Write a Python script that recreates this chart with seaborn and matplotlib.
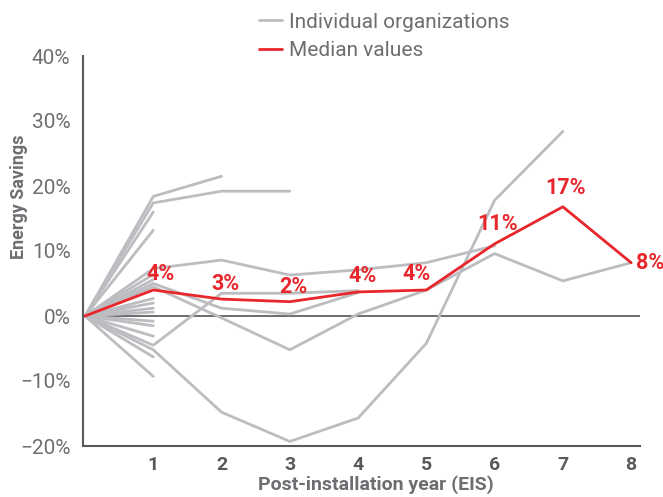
import matplotlib
matplotlib.use("Agg")
import matplotlib.pyplot as plt
import seaborn as sns
import pandas as pd
from matplotlib.lines import Line2D

# ---------------- data ----------------
years = [0, 1, 2, 3, 4, 5, 6, 7, 8]

org_01 = [0, 18.4, 21.5]
org_02 = [0, 17.4, 19.2, 19.2]
org_03 = [0, 16.0]
org_04 = [0, 13.2]
org_05 = [0, 7.3, 8.6, 6.3, 7.1, 8.2, 10.8]
org_06 = [0, 6.4]
org_07 = [0, 5.6]
org_08 = [0, 5.0, 1.2, 0.3, 3.6]
org_09 = [0, 4.5, -0.3, -5.2, 0.3, 4.0, 9.6, 5.4, 8.2]
org_10 = [0, 2.7]
org_11 = [0, 2.0]
org_12 = [0, 1.2]
org_13 = [0, 0.6]
org_14 = [0, -0.8]
org_15 = [0, -1.5]
org_16 = [0, -3.1]
org_17 = [0, -4.5, 3.5, 3.5, 3.9]
org_18 = [0, -5.2, -14.8, -19.3, -15.7, -4.2, 17.8, 28.4]
org_19 = [0, -6.3]
org_20 = [0, -9.3]

orgs = [org_01, org_02, org_03, org_04, org_05, org_06, org_07, org_08, org_09, org_10,
        org_11, org_12, org_13, org_14, org_15, org_16, org_17, org_18, org_19, org_20]

median_values = [0, 4.0, 2.6, 2.2, 3.7, 4.0, 11.1, 16.8, 8.2]
median_labels = ["", "4%", "3%", "2%", "4%", "4%", "11%", "17%", "8%"]

y_ticks = [-20, -10, 0, 10, 20, 30, 40]
x_ticks = [1, 2, 3, 4, 5, 6, 7, 8]

# ---------------- frame ----------------
rows = []
for i, vals in enumerate(orgs):
    for yr, v in zip(years, vals):
        rows.append({"org": i, "year": yr, "saving": v})
df_orgs = pd.DataFrame(rows)
df_med = pd.DataFrame({"year": years, "saving": median_values})

# ---------------- style ----------------
sns.set_theme(style="white")
plt.rcParams["font.family"] = ["Roboto", "DejaVu Sans"]

GRAY = "#bcbdc0"
RED = "#e8262b"
AXIS = "#58595b"
TXT = "#6d6e71"

fig = plt.figure(figsize=(6.63, 4.97), dpi=100)
ax = fig.add_axes([83 / 663, 1 - 446 / 497, (640 - 83) / 663, (446 - 56) / 497])

ax.axhline(0, color="#555555", lw=1.2, zorder=1)

sns.lineplot(data=df_orgs, x="year", y="saving", units="org", estimator=None,
             color=GRAY, lw=2.0, ax=ax, zorder=2, legend=False)
sns.lineplot(data=df_med, x="year", y="saving", color=RED, lw=2.0, ax=ax,
             zorder=3, legend=False)

# labels on median points
offsets = [(0, 0), (7, 5), (4, 4), (4, 4), (4, 5), (-10, 5), (3, 9), (3, 8), (5, 0)]
for yr, v, lab, off in zip(years, median_values, median_labels, offsets):
    if not lab:
        continue
    if yr == 8:
        ax.annotate(lab, (yr, v), xytext=off, textcoords="offset pixels",
                    ha="left", va="center", color=RED, fontsize=15.5,
                    fontweight="bold", zorder=5, annotation_clip=False)
    else:
        ax.annotate(lab, (yr, v), xytext=off, textcoords="offset pixels",
                    ha="center", va="bottom", color=RED, fontsize=15.5,
                    fontweight="bold", zorder=5)

ax.set_xlim(-0.03, 8.13)
ax.set_ylim(-20, 40)
ax.set_xticks(x_ticks)
ax.set_xticklabels([str(t) for t in x_ticks], fontweight="bold", color=AXIS, fontsize=14)
ax.set_yticks(y_ticks)
ax.set_yticklabels([("\u2212" if t < 0 else "") + f"{abs(t)}%" for t in y_ticks],
                   color=TXT, fontsize=15)

for side in ["top", "right"]:
    ax.spines[side].set_visible(False)
for side in ["left", "bottom"]:
    ax.spines[side].set_color(AXIS)
    ax.spines[side].set_linewidth(1.5)
ax.tick_params(axis="both", direction="out", length=6, width=1.2, color=AXIS, pad=3)
ax.tick_params(axis="x", pad=1)

ax.set_xlabel("Post-installation year (EIS)", fontweight="bold", color=TXT, fontsize=14)
ax.set_ylabel("Energy Savings", fontweight="bold", color=TXT, fontsize=13)
ax.yaxis.set_label_coords(-0.098, 0.64)
ax.xaxis.set_label_coords(0.525, -0.074)

handles = [Line2D([], [], color=GRAY, lw=2), Line2D([], [], color=RED, lw=2)]
leg = fig.legend(handles, ["Individual organizations", "Median values"],
                 loc="upper left", bbox_to_anchor=(240 / 663, 1 + 6 / 497),
                 frameon=False, handlelength=1.1, handletextpad=0.35,
                 labelspacing=0.45, fontsize=15)
for t in leg.get_texts():
    t.set_color(TXT)

fig.savefig("out.png", dpi=100)
